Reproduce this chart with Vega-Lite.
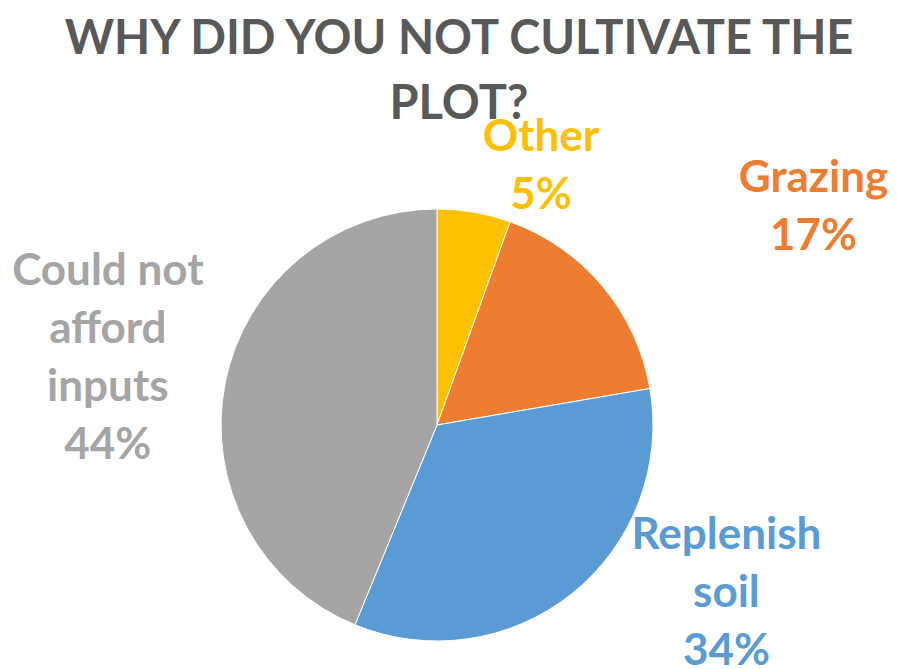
{
  "$schema": "https://vega.github.io/schema/vega-lite/v6.json",
  "width": 874,
  "height": 610,
  "autosize": {"type": "none"},
  "padding": {"top": 120, "left": 0, "right": 23, "bottom": 0},
  "background": "white",
  "view": {"stroke": null},
  "title": {
    "text": ["WHY DID YOU NOT CULTIVATE THE", "PLOT?"],
    "font": "Lato",
    "fontSize": 47,
    "fontWeight": "bold",
    "color": "#595959",
    "anchor": "middle",
    "frame": "group",
    "dx": 22,
    "lineHeight": 65,
    "offset": -13
  },
  "data": {
    "values": [
      {"category": "Other", "rank": 1, "value": 5.5, "label": "Other\n5%"},
      {"category": "Grazing", "rank": 2, "value": 16.8, "label": "Grazing\n17%"},
      {"category": "Replenish soil", "rank": 3, "value": 33.9, "label": "Replenish\nsoil\n34%"},
      {"category": "Could not afford inputs", "rank": 4, "value": 43.8, "label": "Could not\nafford\ninputs\n44%"}
    ]
  },
  "transform": [
    {"stack": "value", "groupby": [], "sort": [{"field": "rank", "order": "ascending"}], "as": ["v0", "v1"]}
  ],
  "encoding": {
    "color": {
      "field": "category",
      "type": "nominal",
      "scale": {
        "domain": ["Other", "Grazing", "Replenish soil", "Could not afford inputs"],
        "range": ["#FFC000", "#ED7D31", "#5B9BD5", "#A5A5A5"]
      },
      "legend": null
    }
  },
  "layer": [
    {
      "mark": {"type": "arc", "radius": 216, "stroke": "white", "strokeWidth": 1},
      "encoding": {
        "theta": {"field": "v0", "type": "quantitative", "scale": {"domain": [0, 100]}},
        "theta2": {"field": "v1"}
      }
    },
    {
      "transform": [{"filter": "datum.category === 'Other'"}],
      "mark": {"type": "text", "radius": 305, "thetaOffset": 0.3477, "font": "Lato", "fontSize": 44, "fontWeight": "bold", "lineBreak": "\n", "lineHeight": 58, "align": "center", "baseline": "middle"},
      "encoding": {
        "theta": {"field": "v0", "type": "quantitative", "scale": {"domain": [0, 100]}},
        "text": {"field": "label"}
      }
    },
    {
      "transform": [{"filter": "datum.category === 'Grazing'"}],
      "mark": {"type": "text", "radius": 450, "thetaOffset": 0.6458, "font": "Lato", "fontSize": 44, "fontWeight": "bold", "lineBreak": "\n", "lineHeight": 58, "align": "center", "baseline": "middle"},
      "encoding": {
        "theta": {"field": "v0", "type": "quantitative", "scale": {"domain": [0, 100]}},
        "text": {"field": "label"}
      }
    },
    {
      "transform": [{"filter": "datum.category === 'Replenish soil'"}],
      "mark": {"type": "text", "radius": 310, "thetaOffset": 0.536, "font": "Lato", "fontSize": 44, "fontWeight": "bold", "lineBreak": "\n", "lineHeight": 58, "align": "center", "baseline": "middle"},
      "encoding": {
        "theta": {"field": "v0", "type": "quantitative", "scale": {"domain": [0, 100]}},
        "text": {"field": "label"}
      }
    },
    {
      "transform": [{"filter": "datum.category === 'Could not afford inputs'"}],
      "mark": {"type": "text", "radius": 363, "thetaOffset": 1.6165, "font": "Lato", "fontSize": 44, "fontWeight": "bold", "lineBreak": "\n", "lineHeight": 58, "align": "center", "baseline": "middle"},
      "encoding": {
        "theta": {"field": "v0", "type": "quantitative", "scale": {"domain": [0, 100]}},
        "text": {"field": "label"}
      }
    }
  ]
}
